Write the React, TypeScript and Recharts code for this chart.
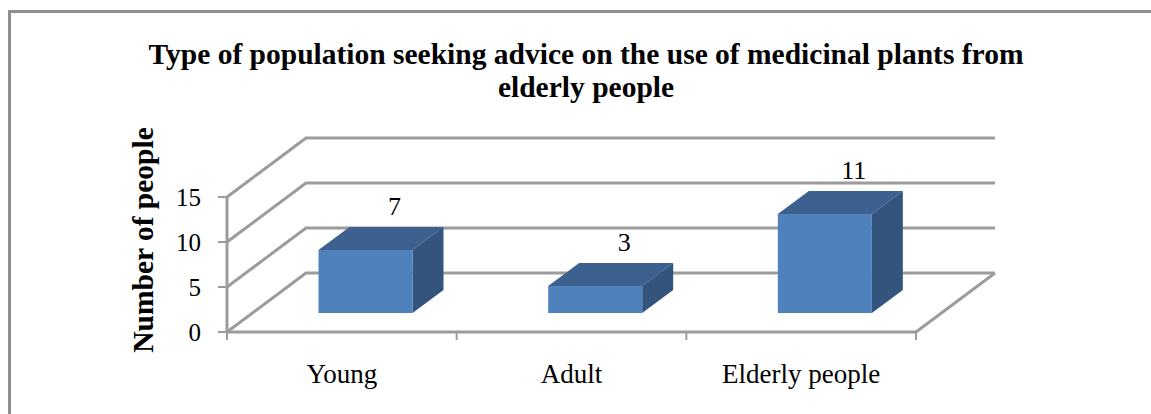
import React from "react";
import { BarChart, Bar, XAxis, YAxis, CartesianGrid, LabelList } from "recharts";

const categories = ["Young", "Adult", "Elderly people"];
const people = [7, 3, 11];
const yTicks = [0, 5, 10, 15];
const titleLines = [
  "Type of population seeking advice on the use of medicinal plants from",
  "elderly people",
];
const yTitle = "Number of people";

const rows = categories.map((name, i) => ({ name, people: people[i] }));

const W = 1151, H = 414;
const PLOT = { left: 227, right: 916, top: 197, bottom: 332 };
const WALL = { dx: 79, dy: -59 };
const BAR_SHIFT = { dx: 23.5, dy: -19 };
const BAR_DEPTH = { dx: 31, dy: -23 };
const FONT = "'Liberation Serif', serif";
const GRID = "#9c9c9c";

const Box = (p: any) => {
  const x = p.x + BAR_SHIFT.dx, y = p.y + BAR_SHIFT.dy, w = p.width, h = p.height;
  const { dx, dy } = BAR_DEPTH;
  return (
    <g>
      <polygon points={`${x},${y} ${x + dx},${y + dy} ${x + w + dx},${y + dy} ${x + w},${y}`} fill="#3c618f" />
      <polygon points={`${x + w},${y} ${x + w + dx},${y + dy} ${x + w + dx},${y + h + dy} ${x + w},${y + h}`} fill="#32547d" />
      <rect x={x} y={y} width={w} height={h} fill="#4f81bd" />
    </g>
  );
};

const GridLine = (p: any) => {
  const { x1, x2, y1 } = p;
  return (
    <g key={`${y1}`}>
      <polyline
        points={`${x1},${y1} ${x1 + WALL.dx},${y1 + WALL.dy} ${x2 + WALL.dx},${y1 + WALL.dy}`}
        fill="none" stroke={GRID} strokeWidth={3}
      />
      {y1 >= PLOT.bottom - 1 ? (
        <line x1={x2} y1={y1} x2={x2 + WALL.dx} y2={y1 + WALL.dy} stroke={GRID} strokeWidth={3} />
      ) : null}
    </g>
  );
};

const XTick = (p: any) => {
  const band = (PLOT.right - PLOT.left) / categories.length;
  const left = p.x - band / 2;
  return (
    <g>
      <line x1={left} y1={PLOT.bottom} x2={left} y2={PLOT.bottom + 8} stroke={GRID} strokeWidth={2} />
      {p.index === categories.length - 1 ? (
        <line x1={left + band} y1={PLOT.bottom} x2={left + band} y2={PLOT.bottom + 8} stroke={GRID} strokeWidth={2} />
      ) : null}
      <text x={p.x} y={383} textAnchor="middle" fontFamily={FONT} fontSize={27} fill="#000">
        {p.payload.value}
      </text>
    </g>
  );
};

const BarValue = (p: any) => (
  <text
    x={p.x + p.width / 2 + BAR_SHIFT.dx + 29}
    y={p.y + BAR_SHIFT.dy - 35}
    textAnchor="middle" fontFamily={FONT} fontSize={26} fill="#000"
  >
    {p.value}
  </text>
);

export default function App() {
  return (
    <div style={{ position: "absolute", left: 0, top: 0, width: W, height: H, overflow: "hidden", background: "#fff" }}>
      <div style={{ position: "absolute", left: 8, top: 10, right: -10, bottom: -10, border: "3px solid #8f8f8f" }} />
      <div style={{ position: "absolute", left: 0, top: 38, width: 1172, textAlign: "center", fontFamily: FONT, fontWeight: 700, fontSize: 29.5, lineHeight: "33px", color: "#000" }}>
        {titleLines.map((t) => <div key={t}>{t}</div>)}
      </div>
      <div style={{ position: "absolute", inset: 0 }}>
        <BarChart
          width={W} height={H} data={rows} barSize={94}
          margin={{ left: PLOT.left - 70, right: W - PLOT.right, top: PLOT.top, bottom: 0 }}
          style={{ position: "absolute", left: 0, top: 0 }}
        >
          <CartesianGrid vertical={false} horizontal={GridLine} />
          <XAxis dataKey="name" height={H - PLOT.bottom} interval={0} axisLine={{ stroke: GRID, strokeWidth: 3 }} tickLine={false} tick={XTick} />
          <YAxis
            width={70} domain={[0, 15]} ticks={yTicks} interval={0}
            axisLine={{ stroke: GRID, strokeWidth: 3 }}
            tickLine={{ stroke: GRID, strokeWidth: 2 }} tickSize={9} tickMargin={17}
            tick={{ fontFamily: FONT, fontSize: 25, fill: "#000" }}
          />
          <Bar dataKey="people" isAnimationActive={false} shape={Box}>
            <LabelList dataKey="people" content={BarValue} />
          </Bar>
        </BarChart>
      </div>
      <div style={{ position: "absolute", left: 143, top: 240, transform: "translate(-50%,-50%) rotate(-90deg)", whiteSpace: "nowrap", fontFamily: FONT, fontWeight: 700, fontSize: 29.5, color: "#000" }}>
        {yTitle}
      </div>
    </div>
  );
}
